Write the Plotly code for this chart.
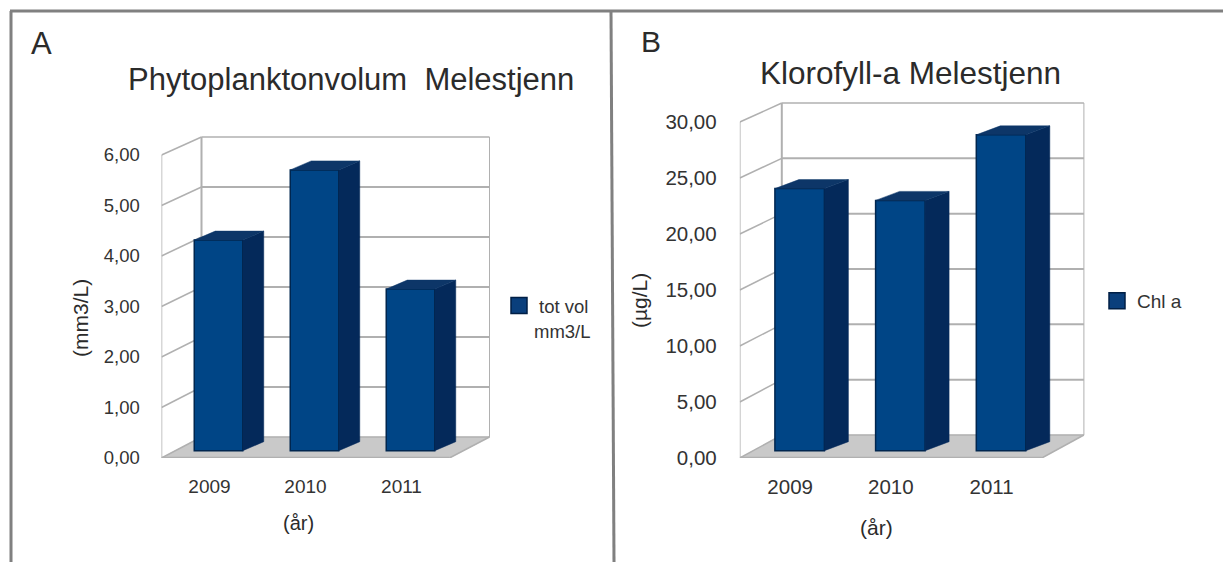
import plotly.graph_objects as go

years = ["2009", "2010", "2011"]
vol_values = [4.17, 5.56, 3.20]
chl_values = [23.4, 22.35, 28.2]
vol_ticks = [0, 1, 2, 3, 4, 5, 6]
chl_ticks = [0, 5, 10, 15, 20, 25, 30]

W, H = 1223, 562
FRONT, SIDE, TOP, EDGE = "#004586", "#04295a", "#0d3668", "#00264f"
FLOOR, GRID, TXT = "#c9c9c9", "#b0b0b0", "#333333"
FONT = "Liberation Sans"


def fmt(v):
    return f"{v:.2f}".replace(".", ",")


def panel(n, vals, ticks, name, g):
    """n: axis index of the wall axes; n+2: overlay with the bars."""
    sx, sy = g["cat_px"], g["unit_px"]
    xa, ya = ("x", "y") if n == 1 else (f"x{n}", f"y{n}")
    xb, yb = f"x{n+2}", f"y{n+2}"
    wdx, wdy = g["wall_dx"] / sx, g["wall_dy"] / sy
    tmax = ticks[-1]
    k = g["back_scale"]
    xl, xr = -0.5, 2.5
    traces = []

    def poly(px, py, color, xx=xa, yy=ya):
        traces.append(go.Scatter(x=px, y=py, xaxis=xx, yaxis=yy, mode="lines", fill="toself",
                                 fillcolor=color, line=dict(color=color, width=0.5),
                                 hoverinfo="skip", showlegend=False))

    def line(px, py, w=1.8):
        traces.append(go.Scatter(x=px, y=py, xaxis=xa, yaxis=ya, mode="lines",
                                 line=dict(color=GRID, width=w), hoverinfo="skip", showlegend=False))

    # floor
    poly([xl, xl + wdx, xr + wdx, xr], [0, wdy, wdy, 0], FLOOR)
    # walls
    for t in ticks:
        yb_ = wdy + t * k
        line([xl + wdx, xr + wdx], [yb_, yb_], 1.5 if t in (ticks[0], tmax) else 2)
        line([xl, xl + wdx], [t, yb_], 1.5)
    line([xl + wdx, xl + wdx], [wdy, wdy + tmax * k], 2)
    line([xr + wdx, xr + wdx], [wdy, wdy + tmax * k], 1)
    line([xl, xl], [0, tmax], 1.5)
    line([xl, xr], [0, 0], 2.5)
    line([xr, xr + wdx], [0, wdy], 1.5)

    # bars
    bw = g["bar_w"] / sx
    fx, fy = g["bar_fx"] / sx, g["bar_fy"] / sy
    bx, by = g["bar_bx"] / sx, g["bar_by"] / sy
    cats = list(range(len(vals)))
    traces.append(go.Bar(x=[c + fx for c in cats], y=vals, base=[fy] * len(vals), width=bw,
                         xaxis=xb, yaxis=yb, name=name, showlegend=False,
                         marker=dict(color=FRONT, line=dict(color=EDGE, width=1.5))))
    for c, v in zip(cats, vals):
        l, r = c + fx - bw / 2, c + fx + bw / 2
        dx, dy = bx - fx, by - fy
        poly([r, r + dx, r + dx, r], [fy, fy + dy, fy + v + dy, fy + v], SIDE, xb, yb)
        poly([l, l + dx, r + dx, r], [fy + v, fy + v + dy, fy + v + dy, fy + v], TOP, xb, yb)
    # legend swatch
    traces.append(go.Scatter(x=[None], y=[None], xaxis=xb, yaxis=yb, mode="markers", name=name,
                             legend="legend" if n == 1 else "legend2",
                             marker=dict(symbol="square", size=16, color="#0a3f7c",
                                         line=dict(color="#001f45", width=1.5))))
    # axes
    rx = -0.5 + (g["right_px"] - g["x0_px"]) / sx
    ry = (g["y0_px"] - g["top_px"]) / sy
    dom_x = [g["x0_px"] / W, g["right_px"] / W]
    dom_y = [1 - g["y0_px"] / H, 1 - g["top_px"] / H]
    axes = {
        f"xaxis{'' if n == 1 else n}": dict(
            domain=dom_x, range=[-0.5, rx], tickvals=cats, ticktext=years, showgrid=False, zeroline=False,
            showline=False, ticks="outside", ticklen=g["xpad"], tickcolor="rgba(0,0,0,0)",
            tickfont=dict(family=FONT, size=g["fsx"], color=TXT), anchor=ya),
        f"yaxis{'' if n == 1 else n}": dict(
            domain=dom_y, range=[0, ry], tickvals=ticks, ticktext=[fmt(t) for t in ticks], showgrid=False,
            zeroline=False, showline=False, ticks="outside", ticklen=g["ypad"], tickcolor="rgba(0,0,0,0)",
            tickfont=dict(family=FONT, size=g["fsy"], color=TXT), anchor=xa),
        f"xaxis{n+2}": dict(overlaying=xa, range=[-0.5, rx], visible=False, anchor=yb, domain=dom_x),
        f"yaxis{n+2}": dict(overlaying=ya, range=[0, ry], visible=False, anchor=xb, domain=dom_y),
    }
    return traces, axes


geoA = dict(x0_px=161.5, y0_px=458, right_px=492, top_px=130, cat_px=96, unit_px=50.5,
            wall_dx=40, wall_dy=21, back_scale=0.99, bar_w=48.5, bar_fx=9, bar_fy=7.3,
            bar_bx=30, bar_by=16.3, fsx=19, fsy=18.5, xpad=11, ypad=17)
geoB = dict(x0_px=739.8, y0_px=458, right_px=1090, top_px=98, cat_px=100.7, unit_px=11.2,
            wall_dx=42, wall_dy=23, back_scale=0.988, bar_w=49.5, bar_fx=9.5, bar_fy=7.3,
            bar_bx=33.5, bar_by=16.3, fsx=20.5, fsy=20.5, xpad=10, ypad=18)

tA, aA = panel(1, vol_values, vol_ticks, "tot vol", geoA)
tB, aB = panel(2, chl_values, chl_ticks, "Chl a", geoB)

fig = go.Figure(tA + tB)


def ann(text, x, y, size, angle=0, color="#2b2b2b"):
    return dict(text=text, x=x / W, y=1 - y / H, xref="paper", yref="paper", xanchor="center",
                yanchor="middle", showarrow=False, textangle=angle,
                font=dict(family=FONT, size=size, color=color))


def rule(x0, y0, x1, y1):
    return dict(type="line", xref="paper", yref="paper", x0=x0 / W, x1=x1 / W, y0=1 - y0 / H, y1=1 - y1 / H,
                line=dict(color="#808080", width=3))


fig.update_layout(
    width=W, height=H, margin=dict(l=0, r=0, t=0, b=0, autoexpand=False), autosize=False,
    paper_bgcolor="white", plot_bgcolor="rgba(0,0,0,0)", barmode="overlay",
    font=dict(family=FONT, color=TXT),
    legend=dict(x=499 / W, y=1 - 287 / H, xanchor="left", yanchor="top", bgcolor="rgba(0,0,0,0)",
                font=dict(size=18.5, color=TXT), itemwidth=30),
    legend2=dict(x=1097 / W, y=1 - 282 / H, xanchor="left", yanchor="top", bgcolor="rgba(0,0,0,0)",
                 font=dict(size=19, color=TXT), itemwidth=30),
    annotations=[
        ann("A", 41, 44, 31),
        ann("B", 651, 42, 30),
        ann("Phytoplanktonvolum  Melestjenn", 351, 80, 31),
        ann("Klorofyll-a Melestjenn", 910, 73, 31.5),
        ann("(mm3/L)", 80, 318, 21, -90),
        ann("(µg/L)", 639, 301, 21, -90),
        ann("(år)", 298, 523, 20),
        ann("(år)", 876, 527, 21),
        ann("mm3/L", 562, 331, 18.5, color=TXT),
    ],
    shapes=[rule(10, 11, 1223, 11), rule(11, 11, 11, 562), rule(611, 11, 614, 562)],
    **aA, **aB,
)

fig.write_html("out.html", config={"displayModeBar": False},
               post_script="document.body.style.margin='0';document.body.style.overflow='hidden';")
